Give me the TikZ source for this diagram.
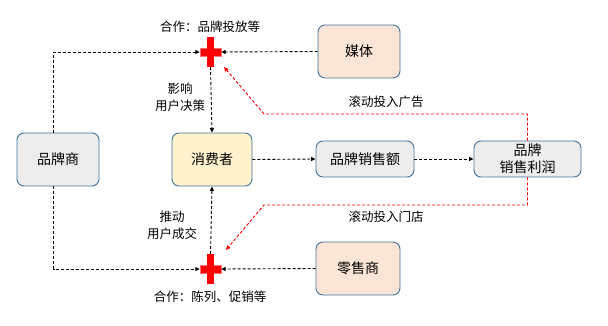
\documentclass[tikz,border=0pt]{standalone}
\usepackage{fontspec}
\setmainfont{Noto Sans CJK SC}
\usetikzlibrary{arrows.meta,positioning,calc}
\definecolor{edge}{HTML}{41719C}
\definecolor{greyfill}{HTML}{EDEDED}
\definecolor{yellowfill}{HTML}{FFF2CC}
\definecolor{peachfill}{HTML}{FBE5D6}
\definecolor{crossred}{HTML}{FF0000}

\begin{document}
\begin{tikzpicture}[x=1pt, y=-1pt,
    box/.style={draw=edge, line width=0.9pt, rounded corners=7pt, minimum width=82pt,
      minimum height=53pt, inner sep=2pt, align=center, font=\fontsize{14}{17}\selectfont},
    flowbox/.style={box, minimum height=36pt},
    flow/.style={draw=black, line width=0.9pt, dash pattern=on 3pt off 2pt,
      -{Triangle[length=4.5pt,width=4pt]}},
    redflow/.style={flow, draw=crossred},
    note/.style={align=center, font=\fontsize{12.5}{17}\selectfont}]
  \useasboundingbox (0,0) rectangle (608,326);

  % boxes
  \node[box, fill=greyfill] (brand) at (58,159.5) {品牌商};
  \node[box, fill=yellowfill, minimum width=80pt] (consumer) at (212,159.5) {消费者};
  \node[box, fill=peachfill] (media) at (359,51.5) {媒体};
  \node[box, fill=peachfill, minimum width=84pt] (retail) at (358,268.5) {零售商};
  \node[flowbox, fill=greyfill, minimum width=98pt] (sales) at (365,159) {品牌销售额};
  \node[flowbox, fill=greyfill, minimum width=107pt] (profit) at (527.5,159) {品牌\\销售利润};

  % red crosses
  \foreach \c/\y in {adT/52, shopT/269}{
    \node[minimum width=21pt, minimum height=30pt, inner sep=0pt] (\c) at (210.5,\y) {};
    \fill[crossred, draw=crossred!55, line width=0.4pt] ($(\c.west)+(0,-4)$) rectangle ($(\c.east)+(0,4)$);
    \fill[crossred] ($(\c.north)+(-3.5,0)$) rectangle ($(\c.south)+(3.5,0)$);
  }

  % connectors
  \draw[flow] ($(brand.north)+(-4.5,0)$) |- (adT.west);
  \draw[flow] (media.west) -- (adT.east);
  \draw[flow] (adT.south) -- (consumer.north);
  \draw[flow] (consumer.east) -- (sales.west);
  \draw[flow] (sales.east) -- (profit.west);
  \draw[flow] ($(brand.south)+(-4.5,0)$) |- (shopT.west);
  \draw[flow] (retail.west) -- (shopT.east);
  \draw[flow] (shopT.north) -- (consumer.south);

  \coordinate (adbend) at (264,114);
  \coordinate (adtip) at (224,67);
  \coordinate (shopbend) at (264,205);
  \coordinate (shoptip) at (226,250);
  \draw[redflow] (profit.north) |- (adbend) -- (adtip);
  \draw[redflow] (profit.south) |- (shopbend) -- (shoptip);

  % labels
  \node[note] (adnote) at (210,27) {合作：品牌投放等};
  \node[note] (influence) at (180,97) {影响\\用户决策};
  \node[note] (adroll) at (386,102) {滚动投入广告};
  \node[note] (shoproll) at (386,217) {滚动投入门店};
  \node[note] (push) at (172,225) {推动\\用户成交};
  \node[note] (shopnote) at (210,297) {合作：陈列、促销等};
\end{tikzpicture}
\end{document}
